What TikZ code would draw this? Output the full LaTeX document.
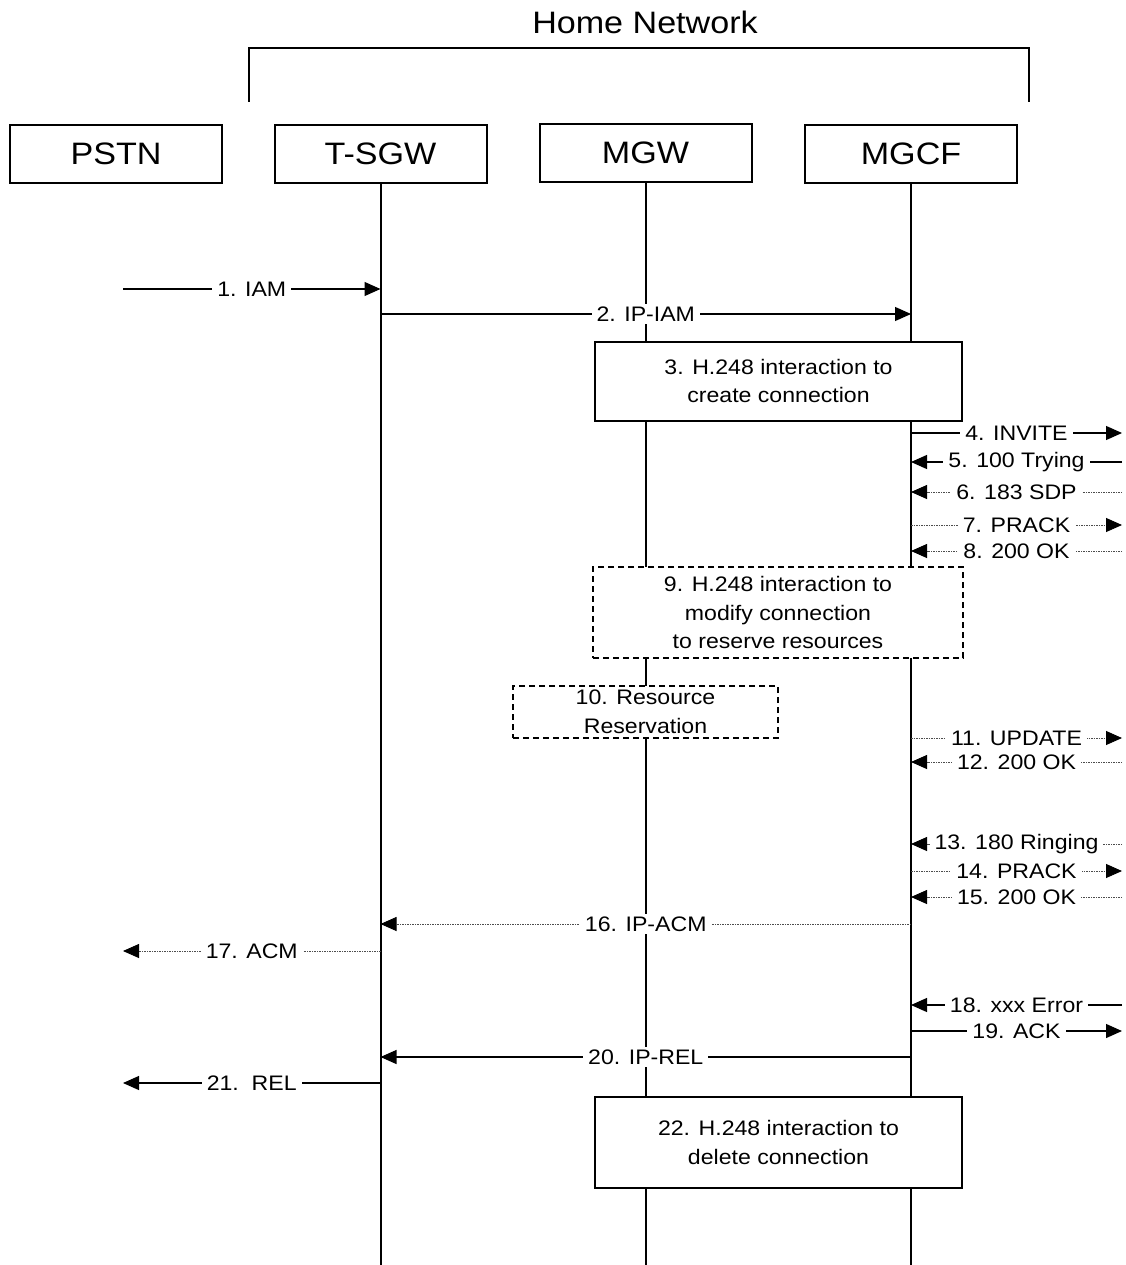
\documentclass[tikz,border=0pt]{standalone}
\usepackage{fontspec}
\setmainfont{Liberation Sans}[FakeStretch=1.1]
\usetikzlibrary{arrows.meta}

\tikzset{
  entity/.style={draw, line width=2pt, minimum width=212pt, minimum height=58pt,
    inner sep=0pt, font=\fontsize{31}{36}\selectfont},
  lifeline/.style={line width=2pt},
  actbox/.style={draw, fill=white, line width=2pt, align=center, inner sep=0pt,
    font=\fontsize{21}{28.5}\selectfont},
  optbox/.style={actbox, dash pattern=on 6pt off 4pt},
  sig/.style={line width=1.2pt, -{Triangle[length=16pt,width=14pt,color=black]}},
  dotsig/.style={sig, draw=black!70, line width=0.9pt, dash pattern=on 1.5pt off 1pt},
  lbl/.style={fill=white, inner xsep=5pt, inner ysep=3pt, text=black,
    font=\fontsize{21}{25}\selectfont}
}

\begin{document}
\begin{tikzpicture}[x=1pt,y=-1pt]
\useasboundingbox (0,0) rectangle (1125,1265);

% home network bracket
\node[font=\fontsize{31}{36}\selectfont] (home) at (645,22) {Home Network};
\coordinate (brl) at (249,102);
\coordinate (brr) at (1029,102);
\draw[line width=2pt] (brl) -- (brl |- 0,48) -- (brr |- 0,48) -- (brr);

% entities
\node[entity] (pstn) at (116,154) {PSTN};
\node[entity] (tsgw) at (380.5,154) {T-SGW};
\node[entity] (mgw)  at (645.5,153) {MGW};
\node[entity] (mgcf) at (911,154) {MGCF};

% lifelines
\foreach \n in {tsgw,mgw,mgcf}
  \draw[lifeline] (\n.south) -- (\n |- 0,1265);

% free ends of the messages
\coordinate (pstnside) at (123,0);
\coordinate (farside) at (1122,0);

% messages
\foreach \y/\a/\b/\t/\s in {
  289/pstnside/tsgw/{1. IAM}/sig,
  314/tsgw/mgcf/{2. IP-IAM}/sig,
  433/mgcf/farside/{4. INVITE}/sig,
  462/farside/mgcf/{5. 100 Trying}/sig,
  492/farside/mgcf/{6. 183 SDP}/dotsig,
  525/mgcf/farside/{7. PRACK}/dotsig,
  551/farside/mgcf/{8. 200 OK}/dotsig,
  738/mgcf/farside/{11. UPDATE~}/dotsig,
  762/farside/mgcf/{12. 200 OK}/dotsig,
  844/farside/mgcf/{13. 180 Ringing}/dotsig,
  871/mgcf/farside/{14. PRACK}/dotsig,
  897/farside/mgcf/{15. 200 OK}/dotsig,
  924/mgcf/tsgw/{16. IP-ACM}/dotsig,
  951/tsgw/pstnside/{17. ACM}/dotsig,
  1005/farside/mgcf/{18. xxx Error}/sig,
  1031/mgcf/farside/{19. ACK}/sig,
  1057/mgcf/tsgw/{20. IP-REL}/sig,
  1083/tsgw/pstnside/{21.\ \ REL}/sig}
  \draw[\s] (\a |- 0,\y) -- node[lbl] {\t} (\b |- 0,\y);

% H.248 interactions
\node[actbox, minimum width=367pt, minimum height=79pt] (create) at (778.5,381)
  {3. H.248 interaction to\\create connection};
\node[optbox, minimum width=370pt, minimum height=91pt] (modify) at (778,612.5)
  {9. H.248 interaction to\\modify connection\\to reserve resources};
\node[optbox, minimum width=265pt, minimum height=52pt] (resv) at (645.5,712)
  {10. Resource\\Reservation};
\node[actbox, minimum width=367pt, minimum height=91pt] (delete) at (778.5,1142.5)
  {22. H.248 interaction to\\delete connection};
\end{tikzpicture}
\end{document}
